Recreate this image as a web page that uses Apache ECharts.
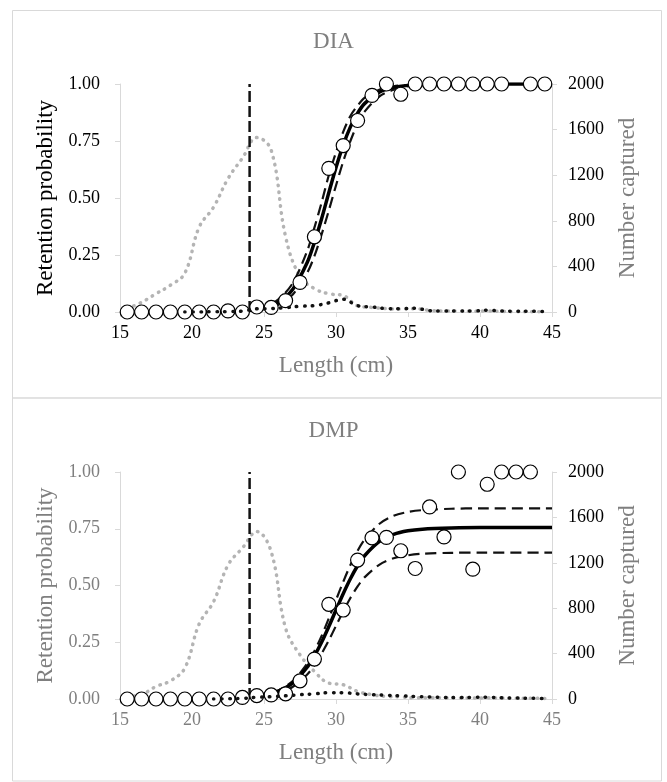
<!DOCTYPE html>
<html>
<head>
<meta charset="utf-8">
<script src="https://cdn.jsdelivr.net/npm/echarts@6/dist/echarts.min.js"></script>
<style>
html,body{margin:0;padding:0;background:#fff;}
#chart{width:667px;height:782px;}
</style>
</head>
<body>
<div id="chart"></div>
<script>
// ---------- data ----------
const panelTitles = ['DIA', 'DMP'];
const xTicks = [15, 20, 25, 30, 35, 40, 45];
const lengths = [15.5,16.5,17.5,18.5,19.5,20.5,21.5,22.5,23.5,24.5,25.5,26.5,27.5,28.5,29.5,30.5,31.5,32.5,33.5,34.5,35.5,36.5,37.5,38.5,39.5,40.5,41.5,42.5,43.5,44.5];

// observed retention (circles)
const diaObserved = [0,0,0,0,0,0,0,0.005,0,0.022,0.02,0.05,0.13,0.33,0.63,0.73,0.84,0.95,1.0,0.955,1,1,1,1,1,1,1,null,1,1];
const dmpObserved = [0,0,0,0,0,0,0,0,0.007,0.015,0.018,0.023,0.08,0.176,0.417,0.392,0.612,0.71,0.712,0.653,0.575,0.846,0.714,1.0,0.572,0.946,1.0,1.0,1.0,null];

// number captured (grey dotted, right axis)
const diaCaptured = [30,85,160,235,340,745,920,1170,1350,1530,1420,660,310,205,160,145,55,40,29,26,29,15,8,8,5,10,5,3,3,2];
const dmpCaptured = [23,40,110,160,272,662,858,1180,1330,1475,1297,624,389,243,140,126,67,38,23,18,10,10,10,8,8,10,8,6,6,5];

// number retained (black dotted, right axis)
const diaRetained = [null,null,null,null,0,0,2,3,8,28,30,38,50,56,80,112,55,44,30,29,33,12,9,9,9,15,9,7,6,5];
const dmpRetained = [null,null,null,null,null,null,0,2,5,15,20,28,38,45,55,55,45,38,33,28,22,18,14,12,14,16,10,8,6,5];

// fitted curves
const curveLengths = [15,20,22,23,24,25,26,27,28,28.5,29,29.5,30,30.5,31,31.5,32,33,34,35,36,38,40,45];
const diaFit   = [0,0.0002,0.0011,0.0029,0.0071,0.0175,0.0427,0.100,0.217,0.305,0.409,0.523,0.634,0.732,0.812,0.872,0.915,0.964,0.985,0.994,0.998,1,1,1];
const diaUpper = [0,0.0003,0.0015,0.0038,0.0093,0.023,0.055,0.127,0.268,0.37,0.48,0.60,0.70,0.79,0.86,0.905,0.94,0.975,0.99,0.996,0.999,1,1,1];
const diaLower = [0,0.0001,0.0008,0.0021,0.0052,0.013,0.032,0.077,0.172,0.245,0.34,0.445,0.555,0.66,0.75,0.825,0.88,0.945,0.975,0.99,0.996,0.999,1,1];
const dmpFit   = [0,0.0003,0.0016,0.0035,0.0075,0.0162,0.0345,0.071,0.14,0.19,0.25,0.319,0.392,0.464,0.53,0.587,0.632,0.693,0.725,0.741,0.748,0.753,0.755,0.755];
const dmpUpper = [0,0.0004,0.0018,0.0039,0.0084,0.018,0.038,0.079,0.156,0.211,0.278,0.355,0.436,0.516,0.59,0.653,0.703,0.771,0.807,0.824,0.832,0.838,0.84,0.84];
const dmpLower = [0,0.0002,0.0012,0.0026,0.0053,0.0116,0.0253,0.054,0.108,0.149,0.20,0.258,0.3225,0.386,0.445,0.496,0.537,0.591,0.62,0.633,0.64,0.644,0.645,0.645];

// minimum legal size line
const mls = 24;
const mlsSpan = [0, 1];

// ---------- build ----------
const FONT = '"Liberation Serif", "Times New Roman", serif';
const GREY = '#7f7f7f';
const BLACK = '#000000';
const AXIS = '#d9d9d9';

function pairs(xs, ys) {
  const out = [];
  for (let i = 0; i < xs.length; i++) if (ys[i] !== null && ys[i] !== undefined) out.push([xs[i], ys[i]]);
  return out;
}

const panels = [
  { top: 84, height: 228, obs: diaObserved, cap: diaCaptured, ret: diaRetained, fit: diaFit, up: diaUpper, lo: diaLower,
    leftCol: BLACK, rightCol: BLACK, xCol: BLACK, titleTop: 25 },
  { top: 472, height: 227, obs: dmpObserved, cap: dmpCaptured, ret: dmpRetained, fit: dmpFit, up: dmpUpper, lo: dmpLower,
    leftCol: GREY, rightCol: BLACK, xCol: GREY, titleTop: 414 }
];

const grid = [], xAxis = [], yAxis = [], series = [], title = [];
panels.forEach((p, i) => {
  grid.push({ left: 120, right: 115, top: p.top, height: p.height });
  title.push({ text: panelTitles[i], left: 'center', top: p.titleTop,
    textStyle: { fontFamily: FONT, fontSize: 23, fontWeight: 'normal', color: GREY } });
  xAxis.push({
    type: 'value', gridIndex: i, min: xTicks[0], max: xTicks[xTicks.length - 1], interval: 5,
    name: 'Length (cm)', nameLocation: 'middle', nameGap: 42,
    nameTextStyle: { fontFamily: FONT, fontSize: 23, color: GREY },
    axisLine: { show: true, onZero: false, lineStyle: { color: AXIS, width: 1 } },
    axisTick: { show: true, length: 5, lineStyle: { color: AXIS } },
    axisLabel: { fontFamily: FONT, fontSize: 18, color: p.xCol, margin: 12 },
    splitLine: { show: false }
  });
  yAxis.push({
    type: 'value', gridIndex: i, min: 0, max: 1, interval: 0.25, position: 'left',
    name: 'Retention probability', nameLocation: 'middle', nameGap: 58, nameRotate: 90,
    nameTextStyle: { fontFamily: FONT, fontSize: 23, color: p.leftCol },
    axisLine: { show: true, lineStyle: { color: AXIS, width: 1 } },
    axisTick: { show: true, length: 5, lineStyle: { color: AXIS } },
    axisLabel: { fontFamily: FONT, fontSize: 18, color: p.leftCol, margin: 20, formatter: v => v.toFixed(2) },
    splitLine: { show: false }
  });
  yAxis.push({
    type: 'value', gridIndex: i, min: 0, max: 2000, interval: 400, position: 'right',
    name: 'Number captured', nameLocation: 'middle', nameGap: 64, nameRotate: 90,
    nameTextStyle: { fontFamily: FONT, fontSize: 23, color: GREY },
    axisLine: { show: true, lineStyle: { color: AXIS, width: 1 } },
    axisTick: { show: true, length: 5, lineStyle: { color: AXIS } },
    axisLabel: { fontFamily: FONT, fontSize: 18, color: p.rightCol, margin: 16, formatter: v => String(v) },
    splitLine: { show: false }
  });
  const yl = i * 2, yr = i * 2 + 1;
  series.push({
    type: 'line', xAxisIndex: i, yAxisIndex: yr, data: pairs(lengths, p.cap), smooth: 0.4,
    showSymbol: false, z: 1, lineStyle: { color: '#b4b4b4', width: 3.5, type: [0.5, 6.5], cap: 'round' }
  });
  series.push({
    type: 'line', xAxisIndex: i, yAxisIndex: yl, data: [[mls, mlsSpan[0]], [mls, mlsSpan[1]]],
    showSymbol: false, z: 2, lineStyle: { color: '#111', width: 2.5, type: [11, 4] }
  });
  series.push({
    type: 'line', xAxisIndex: i, yAxisIndex: yl, data: pairs(curveLengths, p.up), smooth: 0.3,
    showSymbol: false, z: 3, lineStyle: { color: '#111', width: 2.2, type: [11, 6] }
  });
  series.push({
    type: 'line', xAxisIndex: i, yAxisIndex: yl, data: pairs(curveLengths, p.lo), smooth: 0.3,
    showSymbol: false, z: 3, lineStyle: { color: '#111', width: 2.2, type: [11, 6] }
  });
  series.push({
    type: 'line', xAxisIndex: i, yAxisIndex: yl, data: pairs(curveLengths, p.fit), smooth: 0.3,
    showSymbol: false, z: 4, lineStyle: { color: '#000', width: 3.5 }
  });
  series.push({
    type: 'scatter', xAxisIndex: i, yAxisIndex: yl, data: pairs(lengths, p.obs),
    symbol: 'circle', symbolSize: 14, z: 5,
    itemStyle: { color: '#fff', borderColor: '#000', borderWidth: 1.2, opacity: 1 }
  });
  series.push({
    type: 'line', xAxisIndex: i, yAxisIndex: yr, data: pairs(lengths, p.ret), smooth: 0.4,
    showSymbol: false, z: 6, lineStyle: { color: '#111', width: 3.5, type: [0.5, 7.5], cap: 'round' }
  });
});

const chart = echarts.init(document.getElementById('chart'), null, { renderer: 'canvas' });
chart.setOption({
  animation: false,
  backgroundColor: '#fff',
  title, grid, xAxis, yAxis, series,
  graphic: [
    { type: 'rect', shape: { x: 12.5, y: 10.5, width: 649, height: 387.5 }, style: { fill: 'none', stroke: '#d9d9d9', lineWidth: 1 }, z: -1 },
    { type: 'rect', shape: { x: 12.5, y: 398, width: 649, height: 383 }, style: { fill: 'none', stroke: '#d9d9d9', lineWidth: 1 }, z: -1 }
  ]
});
</script>
</body>
</html>
